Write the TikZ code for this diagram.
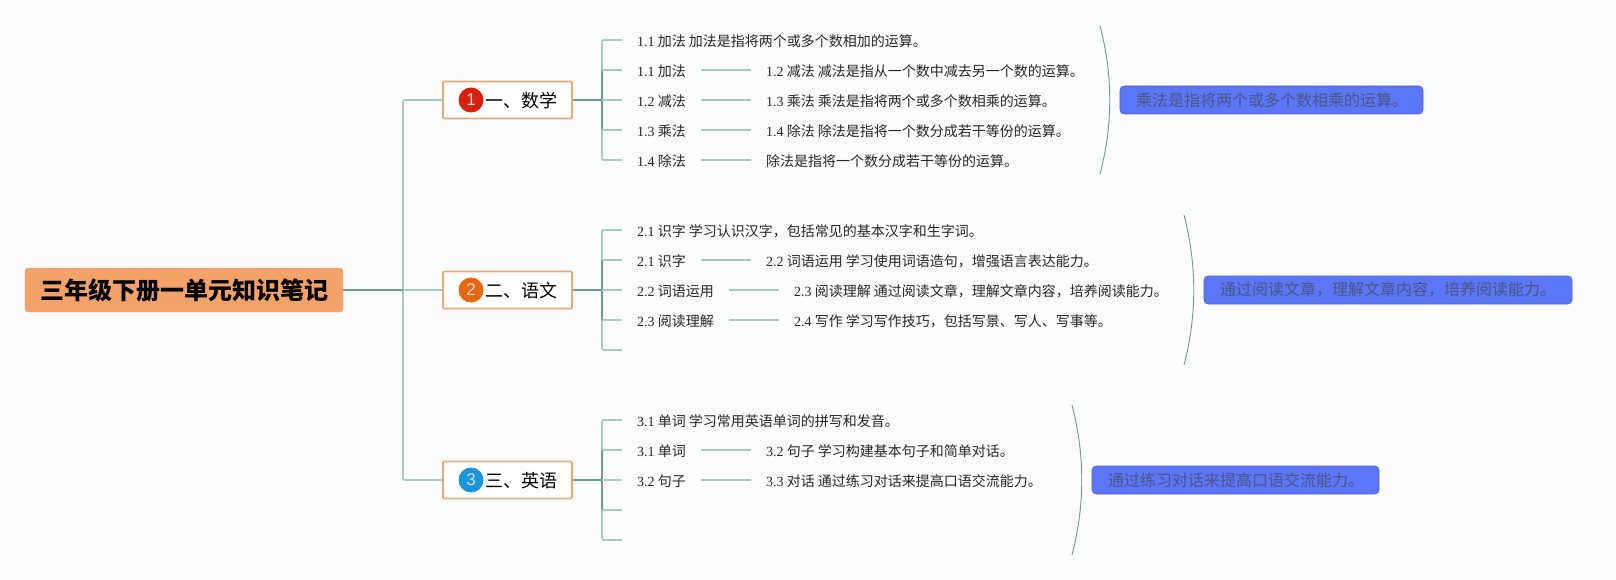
\documentclass[tikz,border=0pt]{standalone}
\usepackage{fontspec}
\setmainfont{Liberation Serif}
\newfontfamily\cjk{Noto Sans CJK SC}
\newfontfamily\badgefont{Liberation Sans}
\usetikzlibrary{positioning,calc}
\definecolor{paper}{HTML}{FCFCFC}
\definecolor{peach}{HTML}{F4A268}
\definecolor{edgepeach}{HTML}{E9A877}
\definecolor{palegreen}{HTML}{A5CABF}
\definecolor{deepgreen}{HTML}{6B9C8E}
\definecolor{notefill}{HTML}{5B76F6}
\definecolor{noteink}{HTML}{4C5585}
\definecolor{badgered}{HTML}{D9200F}
\definecolor{badgeorange}{HTML}{E8670F}
\definecolor{badgeblue}{HTML}{1A96DC}
\tikzset{
  rootbox/.style={fill=peach, draw=peach!80!white, rounded corners=3pt, minimum width=318pt, minimum height=44pt, inner sep=0pt, font=\cjk\fontsize{24}{24}\selectfont\bfseries},
  topicbox/.style={fill=white, draw=edgepeach, line width=1.6pt, rounded corners=1pt, minimum width=129pt, minimum height=37pt, inner sep=0pt},
  topictext/.style={inner sep=0pt, anchor=west, font=\cjk\fontsize{18}{18}\selectfont},
  badge/.style={circle, minimum size=25pt, inner sep=0pt, text=white!85!black, font=\badgefont\fontsize{17}{17}\selectfont},
  leaf/.style={inner sep=0pt, anchor=west, text=black!85, text height=14pt, text depth=1pt, font=\cjk\fontsize{14}{14}\selectfont},
  notebox/.style={fill=notefill, draw=notefill!85!black, line width=0.6pt, rounded corners=4pt, minimum height=28pt, inner sep=0pt},
  notetext/.style={inner sep=0pt, anchor=west, text=noteink, font=\cjk\fontsize{16}{16}\selectfont},
  pale/.style={draw=palegreen, line width=1.6pt},
  deep/.style={draw=deepgreen, line width=1.6pt},
  stub/.style={pale, shorten >=15pt},
  link/.style={pale, shorten <=15pt, shorten >=15pt},
  arc/.style={draw=deepgreen, line width=0.9pt},
}
\newcommand{\nm}[1]{{\rmfamily #1}}
\begin{document}
\begin{tikzpicture}[x=1pt, y=-1pt]
\useasboundingbox[fill=paper] (0,0) rectangle (1616,580);

% Root and main trunk
\node[rootbox] (root) at (184,290) {三年级下册一单元知识笔记};
\coordinate (trunk) at (403,290);
\node[topicbox] (math) at (507.5,100) {};
\node[topicbox] (chinese) at (507.5,290) {};
\node[topicbox] (english) at (507.5,480) {};
\draw[pale, rounded corners=2pt] (math.west) -| (trunk) |- (english.west);
\draw[pale] (trunk) -- (chinese.west);
\draw[deep] (root.east) -- (trunk);

% Topic labels
\node[badge, fill=badgered] (badgeA) at (471,100) {1};
\node[badge, fill=badgeorange] (badgeB) at (471,290) {2};
\node[badge, fill=badgeblue] (badgeC) at (471,480) {3};
\node[topictext] (labelA) at (485,101) {一、数学};
\node[topictext] (labelB) at (485,291) {二、语文};
\node[topictext] (labelC) at (485,481) {三、英语};

% Brackets for the three topics
\foreach \grp/\src/\ya/\yb/\yc/\yd/\ye in {a/math/40/70/100/130/160, b/chinese/230/260/290/320/350, c/english/420/450/480/510/540}{
  \coordinate (t\grp1) at (602,\ya);
  \coordinate (t\grp2) at (602,\yb);
  \coordinate (t\grp3) at (602,\yc);
  \coordinate (t\grp4) at (602,\yd);
  \coordinate (t\grp5) at (602,\ye);
  \coordinate (e\grp1) at (622,\ya);
  \coordinate (e\grp4) at (622,\yd);
  \coordinate (e\grp5) at (622,\ye);
  \draw[pale, rounded corners=2pt] (e\grp1) -- (t\grp1) -- (t\grp5) -- (e\grp5);
  \draw[deep] (t\grp2) -- (t\grp4);
  \draw[deep] (\src.east) -- (t\grp3);
}

% Math leaves
\node[leaf] (a1) at (637,40) {\nm{1.1} 加法 加法是指将两个或多个数相加的运算。};
\node[leaf] (a2) at (637,70) {\nm{1.1} 加法};
\node[leaf] (a3) at (637,100) {\nm{1.2} 减法};
\node[leaf] (a4) at (637,130) {\nm{1.3} 乘法};
\node[leaf] (a5) at (637,160) {\nm{1.4} 除法};
\node[leaf] (a2r) at (766,70) {\nm{1.2} 减法 减法是指从一个数中减去另一个数的运算。};
\node[leaf] (a3r) at (766,100) {\nm{1.3} 乘法 乘法是指将两个或多个数相乘的运算。};
\node[leaf] (a4r) at (766,130) {\nm{1.4} 除法 除法是指将一个数分成若干等份的运算。};
\node[leaf] (a5r) at (766,160) {除法是指将一个数分成若干等份的运算。};

% Chinese leaves
\node[leaf] (b1) at (637,230) {\nm{2.1} 识字 学习认识汉字，包括常见的基本汉字和生字词。};
\node[leaf] (b2) at (637,260) {\nm{2.1} 识字};
\node[leaf] (b3) at (637,290) {\nm{2.2} 词语运用};
\node[leaf] (b4) at (637,320) {\nm{2.3} 阅读理解};
\node[leaf] (b2r) at (766,260) {\nm{2.2} 词语运用 学习使用词语造句，增强语言表达能力。};
\node[leaf] (b3r) at (794,290) {\nm{2.3} 阅读理解 通过阅读文章，理解文章内容，培养阅读能力。};
\node[leaf] (b4r) at (794,320) {\nm{2.4} 写作 学习写作技巧，包括写景、写人、写事等。};

% English leaves
\node[leaf] (c1) at (637,420) {\nm{3.1} 单词 学习常用英语单词的拼写和发音。};
\node[leaf] (c2) at (637,450) {\nm{3.1} 单词};
\node[leaf] (c3) at (637,480) {\nm{3.2} 句子};
\node[leaf] (c2r) at (766,450) {\nm{3.2} 句子 学习构建基本句子和简单对话。};
\node[leaf] (c3r) at (766,480) {\nm{3.3} 对话 通过练习对话来提高口语交流能力。};

% Stubs and links
\foreach \a in {a1, a2, a3, a4, a5, b1, b2, b3, b4, c1, c2, c3}
  \draw[stub] (t\a) -- (\a.west);
\foreach \a/\b in {a2/a2r, a3/a3r, a4/a4r, a5/a5r, b2/b2r, b3/b3r, b4/b4r, c2/c2r, c3/c3r}
  \draw[link] (\a.east) -- (\b.west);
\draw[pale] (tc4) -- (ec4);

% Summary arcs
\draw[arc] (1100,26) .. controls (1113,75) and (1113,125) .. (1100,174);
\draw[arc] (1184,215) .. controls (1197,265) and (1197,315) .. (1184,365);
\draw[arc] (1072,405) .. controls (1085,455) and (1085,505) .. (1072,555);

% Summary notes
\node[notebox, minimum width=303pt] (noteA) at (1271.5,100) {};
\node[notebox, minimum width=368pt] (noteB) at (1388,290) {};
\node[notebox, minimum width=287pt] (noteC) at (1235.5,480) {};
\node[notetext] (textA) at (1136,100) {乘法是指将两个或多个数相乘的运算。};
\node[notetext] (textB) at (1220,290) {通过阅读文章，理解文章内容，培养阅读能力。};
\node[notetext] (textC) at (1108,480) {通过练习对话来提高口语交流能力。};
\end{tikzpicture}
\end{document}
